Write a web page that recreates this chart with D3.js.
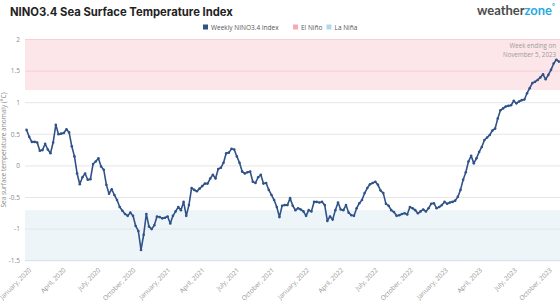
<!DOCTYPE html>
<html><head><meta charset="utf-8">
<script src="https://cdn.jsdelivr.net/npm/d3@7"></script>
<style>html,body{margin:0;padding:0;background:#fff;}svg{display:block;font-family:"Open Sans",sans-serif;}</style>
</head><body><svg id="c" width="560" height="302"></svg>
<script>
// ---- data ----
const firstWeek = "2020-01-05";
const nino34 = [
 0.57,0.46,0.38,0.38,0.37,0.24,0.25,0.35,0.26,0.20,
 0.37,0.65,0.50,0.51,0.52,0.58,0.53,0.31,0.15,-0.12,
 -0.29,-0.18,-0.12,-0.22,-0.21,0.03,0.07,0.12,-0.01,-0.06,
 -0.30,-0.44,-0.37,-0.46,-0.54,-0.65,-0.71,-0.76,-0.79,-0.74,
 -0.79,-0.95,-1.03,-1.33,-1.09,-0.76,-0.96,-1.00,-0.94,-0.80,
 -0.81,-0.83,-0.82,-0.80,-0.91,-0.79,-0.72,-0.65,-0.70,-0.57,
 -0.79,-0.62,-0.35,-0.38,-0.40,-0.36,-0.32,-0.28,-0.28,-0.20,
 -0.14,-0.20,-0.05,-0.03,0.05,0.20,0.21,0.27,0.26,0.15,
 0.05,-0.09,-0.12,-0.10,-0.09,-0.25,-0.27,-0.18,-0.14,-0.28,
 -0.27,-0.38,-0.46,-0.54,-0.65,-0.81,-0.63,-0.62,-0.62,-0.51,
 -0.63,-0.70,-0.67,-0.69,-0.72,-0.79,-0.70,-0.72,-0.57,-0.57,
 -0.58,-0.57,-0.62,-0.87,-0.80,-0.85,-0.70,-0.58,-0.69,-0.70,
 -0.62,-0.74,-0.78,-0.79,-0.67,-0.59,-0.54,-0.43,-0.35,-0.29,
 -0.27,-0.25,-0.30,-0.39,-0.43,-0.60,-0.63,-0.70,-0.73,-0.79,
 -0.78,-0.76,-0.75,-0.77,-0.65,-0.67,-0.70,-0.75,-0.72,-0.69,
 -0.72,-0.67,-0.60,-0.59,-0.67,-0.65,-0.62,-0.57,-0.60,-0.58,
 -0.57,-0.55,-0.49,-0.38,-0.22,-0.10,0.07,0.16,0.04,0.12,
 0.22,0.30,0.41,0.45,0.49,0.56,0.59,0.75,0.88,0.91,
 0.94,0.95,0.96,1.03,0.99,1.02,1.04,1.05,1.15,1.23,
 1.31,1.33,1.36,1.40,1.45,1.37,1.44,1.52,1.62,1.68,
 1.65
];
const yTicks = [-1.5,-1,-0.5,0,0.5,1,1.5,2];
const xTickDates = ["2020-01-01","2020-04-01","2020-07-01","2020-10-01","2021-01-01","2021-04-01","2021-07-01","2021-10-01",
  "2022-01-01","2022-04-01","2022-07-01","2022-10-01","2023-01-01","2023-04-01","2023-07-01","2023-10-01"];
const xTickLabels = ["January, 2020","April, 2020","July, 2020","October, 2020","January, 2021","April, 2021","July, 2021","October, 2021",
  "January, 2022","April, 2022","July, 2022","October, 2022","January, 2023","April, 2023","July, 2023","October, 2023"];
const elNinoBand = [1.2, 2];
const laNinaBand = [-1.5, -0.7];
const legendLabels = ["Weekly NINO3.4 Index","El Niño","La Niña"];
const legendColors = ["#2f5287","#f4aab8","#b3d8ea"];
const titleText = "NINO3.4 Sea Surface Temperature Index";
const yTitle = "Sea surface temperature anomaly (°C)";
const noteLines = ["Week ending on","November 5, 2023"];

// ---- chart ----
const parse = d3.utcParse("%Y-%m-%d");
const start = parse(firstWeek);
const dates = nino34.map((v,i)=>d3.utcDay.offset(start, i*7));
const data = nino34.map((v,i)=>({d:dates[i], v}));
const svg = d3.select("#c");
const L = 25, R = 560, T = 39.5, B = 260.7;
const x = d3.scaleUtc().domain([parse("2020-01-01"), parse("2023-11-05")]).range([L, 559]);
const y = d3.scaleLinear().domain([-1.5, 2]).range([B, T]);

// bands
svg.append("rect").attr("x",L).attr("width",R-L).attr("y",y(elNinoBand[1])).attr("height",y(elNinoBand[0])-y(elNinoBand[1])).attr("fill","#fde6e9");
svg.append("rect").attr("x",L).attr("width",R-L).attr("y",y(laNinaBand[1])).attr("height",y(laNinaBand[0])-y(laNinaBand[1])).attr("fill","#eef5f9");

// grid
svg.append("g").selectAll("line").data(yTicks).join("line")
  .attr("x1",L).attr("x2",R).attr("y1",d=>y(d)).attr("y2",d=>y(d))
  .attr("stroke",d=>d===-1.5?"#d6dde6":(d>=elNinoBand[0]?"#f3d0d4":"#e6e6e6")).attr("stroke-width",1);

// y labels
svg.append("g").selectAll("text").data(yTicks).join("text")
  .attr("x",20).attr("y",d=>y(d)).attr("dy","0.35em").attr("text-anchor","end")
  .attr("font-size",6.5).attr("fill","#8a8a8a").text(d=>String(d));

svg.append("text").attr("transform",`translate(6,150) rotate(-90)`).attr("text-anchor","middle")
  .attr("font-size",6.5).attr("fill","#8a8a8a").text(yTitle);

// x labels
svg.append("g").selectAll("text").data(xTickDates).join("text")
  .attr("transform",(d)=>`translate(${x(parse(d))+5},269) rotate(-45)`)
  .attr("text-anchor","end").attr("dy","0.35em")
  .attr("font-size",6.5).attr("fill","#949494").text((d,i)=>xTickLabels[i]);

// line
const line = d3.line().x(d=>x(d.d)).y(d=>y(d.v));
svg.append("path").datum(data).attr("d",line).attr("fill","none").attr("stroke","#2f5287").attr("stroke-width",1.6).attr("stroke-linejoin","round");
svg.append("g").selectAll("circle").data(data).join("circle")
  .attr("cx",d=>x(d.d)).attr("cy",d=>y(d.v)).attr("r",1.3).attr("fill","#2f5287");

// note
svg.append("g").selectAll("text").data(noteLines).join("text")
  .attr("x",556).attr("y",(d,i)=>48+i*8.5).attr("text-anchor","end")
  .attr("font-size",6.2).attr("fill","#9a9a9a").text(d=>d);

// legend
const lg = svg.append("g");
const lx = [203, 293, 326.5];
legendLabels.forEach((t,i)=>{
  lg.append("rect").attr("x",lx[i]).attr("y",24.5).attr("width",5).attr("height",5).attr("fill",legendColors[i]);
  lg.append("text").attr("x",lx[i]+8).attr("y",29.5).attr("font-size",6.5).attr("fill","#555").text(t);
});

// title
const title = svg.append("text").attr("x",10).attr("y",15.5).attr("font-family","Inter, sans-serif")
  .attr("font-weight",700).attr("font-size",13).attr("fill","#222").text(titleText);
const tw = title.node().getComputedTextLength();
title.attr("font-size", 13*223/tw);

// logo
const logo = svg.append("text").attr("x",477).attr("y",15).attr("font-family","Lato, sans-serif").attr("font-weight",700).attr("font-size",15);
logo.append("tspan").attr("fill","#4b4b4b").text("weather");
logo.append("tspan").attr("fill","#2aa9e0").text("zone");
const lw = logo.node().getComputedTextLength();
logo.attr("font-size", 15*75/lw);
logo.append("tspan").attr("fill","#2aa9e0").attr("font-size",7).attr("dy",-6).text("°");
</script></body></html>
